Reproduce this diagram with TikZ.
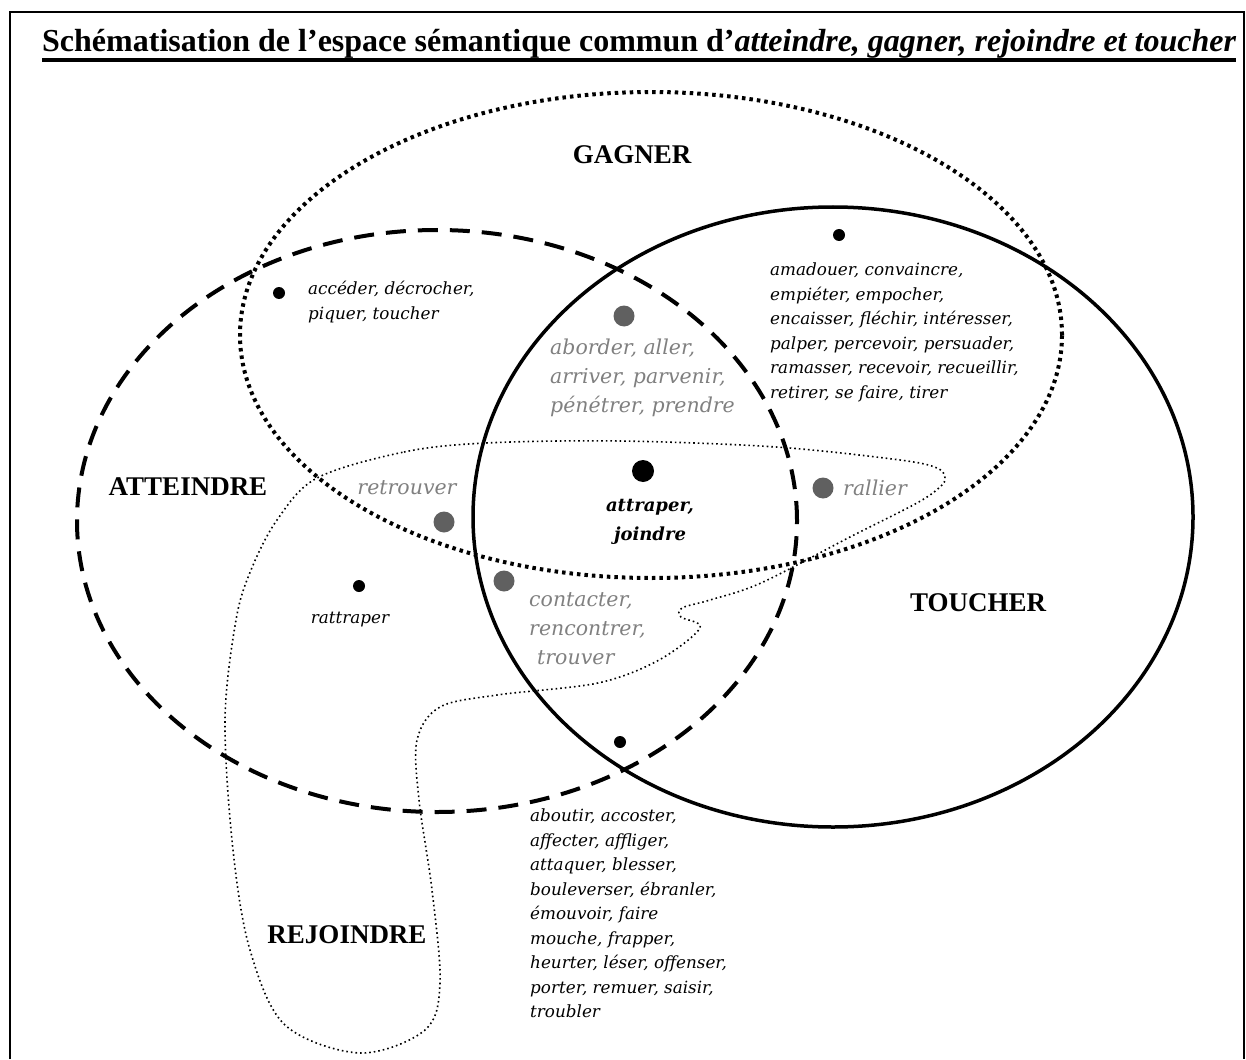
\documentclass[tikz,border=0pt]{standalone}
\usepackage{fontspec}
\setmainfont{Liberation Serif}
\newfontfamily\wordfont{DejaVu Serif}
\usetikzlibrary{positioning}
\definecolor{VGray}{HTML}{808080}
\definecolor{VDot}{HTML}{606060}
\begin{document}
\begin{tikzpicture}[x=1pt,y=-1pt]
\tikzset{lbl/.style={font=\fontsize{27}{30}\selectfont\bfseries,inner sep=0pt},
 wrd/.style={font=\wordfont\itshape\fontsize{16.8}{24.5}\selectfont,align=left,inner sep=0pt},
 wgr/.style={font=\wordfont\itshape\fontsize{20.5}{29}\selectfont,text=VGray,align=left,inner sep=0pt},
 bdot/.style={circle,fill=black,inner sep=0pt,minimum size=12pt},
 gdot/.style={circle,fill=VDot,inner sep=0pt,minimum size=21pt},
 gagl/.style={line width=4pt,dash pattern=on 3.5pt off 4pt},
 attl/.style={line width=4pt,dash pattern=on 20pt off 12pt},
 toul/.style={line width=3.5pt},
 rejl/.style={line width=1.6pt,dash pattern=on 1.6pt off 3pt}}
\useasboundingbox (0,0) rectangle (1246,1059);
\draw[line width=1.8pt] (10,1059) -- (10,12) -- (1244,12) -- (1244,1059);
% title
\node[font=\fontsize{32}{36}\selectfont\bfseries,inner sep=0pt,anchor=base west] (ttl) at (42,52) {Schématisation de l’espace sémantique commun d’\textit{atteindre, gagner, rejoindre et toucher}};
\draw[line width=3.5pt] ([yshift=-8pt]ttl.base west) -- ([yshift=-8pt]ttl.base east);
% the four areas
\draw[gagl] (651,335) ellipse [x radius=411pt,y radius=243pt];
\draw[attl] (437,521) ellipse [x radius=360pt,y radius=291pt];
\draw[toul] (833,517) ellipse [x radius=360pt,y radius=310pt];
\draw[rejl] plot[smooth cycle,tension=0.55] coordinates {(317,478) (404,452) (486,443) (620,441) (776,447) (900,460) (937,468) (945,478) (940,487) (917,503) (850,537) (761,583) (710,600) (682,608) (681,617) (700,628) (659,660) (598,683) (497,695) (440,707) (417,740) (419,800) (432,890) (440,983) (425,1030) (360,1053) (285,1025) (250,950) (233,850) (225,720) (236,620) (251,570) (277,520)};
\node[lbl] (gag) at (632,155) {GAGNER};
\node[lbl] (att) at (188,487) {ATTEINDRE};
\node[lbl] (tou) at (978,603) {TOUCHER};
\node[lbl] (rej) at (347,935) {REJOINDRE};
% points
\node[bdot] (d1) at (279,293) {};
\node[bdot] (d2) at (839,235) {};
\node[gdot] (d3) at (624,316) {};
\node[bdot,minimum size=22pt] (d4) at (643,471) {};
\node[gdot] (d5) at (444,522) {};
\node[gdot] (d6) at (504,581) {};
\node[gdot] (d7) at (823,488) {};
\node[bdot] (d8) at (359,586) {};
\node[bdot] (d9) at (620,742) {};
% verbs
\node[wrd,anchor=north west] (t1) at (308,281) {accéder, décrocher,\\piquer, toucher};
\node[wrd,anchor=north west] (t2) at (770,263) {amadouer, convaincre,\\empiéter, empocher,\\encaisser, fléchir, intéresser,\\palper, percevoir, persuader,\\ramasser, recevoir, recueillir,\\retirer, se faire, tirer};
\node[wgr,anchor=north west] (t3) at (550,339) {aborder, aller,\\arriver, parvenir,\\pénétrer, prendre};
\node[font=\wordfont\bfseries\itshape\fontsize{18}{29}\selectfont,align=center,inner sep=0pt] (t4) at (650,522) {attraper,\\joindre};
\node[wgr] (t5) at (407,488) {retrouver};
\node[wgr,anchor=west] (t6) at (843,488) {rallier};
\node[wrd] (t7) at (350,620) {rattraper};
\node[wgr,anchor=north west] (t8) at (529,592) {contacter,\\rencontrer,\\\hspace{8pt}trouver};
\node[wrd,anchor=north west] (t9) at (530,809) {aboutir, accoster,\\affecter, affliger,\\attaquer, blesser,\\bouleverser, ébranler,\\émouvoir, faire\\mouche, frapper,\\heurter, léser, offenser,\\porter, remuer, saisir,\\troubler};
\end{tikzpicture}
\end{document}
